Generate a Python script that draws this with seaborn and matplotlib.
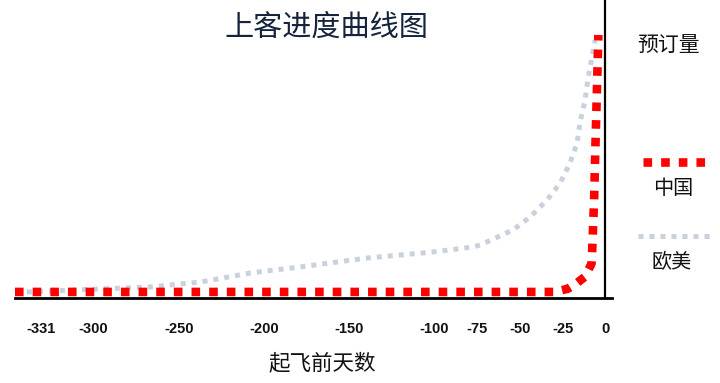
import numpy as np
import pandas as pd
import matplotlib
matplotlib.use("Agg")
import matplotlib.pyplot as plt
import seaborn as sns
from matplotlib.lines import Line2D

# 起飞前天数 / 预订量
days_cn = [-346, -30, -22, -17, -12, -8, -7.5, -6.5, -5.8, -5, -4]
booking_cn = [2.3, 2.3, 3.5, 5.5, 8, 13, 20, 37, 56, 75, 100]

days_eu = [-339, -267, -237, -208, -179, -139.5, -101, -77.5, -73, -54, -44,
           -34, -26.4, -20.6, -16.5, -14.7, -11.8, -10, -7.7, -5.9]
booking_eu = [2.3, 4.2, 6.1, 9.5, 11.8, 15.2, 17.5, 19.4, 20.2, 25.9, 30.8,
              37.3, 43.7, 51.3, 58.9, 66.9, 75.3, 83.7, 91.6, 98]

tick_days = [-331, -300, -250, -200, -150, -100, -75, -50, -25, 0]
series_names = ["中国", "欧美"]

red = "#ff0000"
grey = "#c9d1dd"

sns.set_theme(style="white")
plt.rcParams["font.family"] = ["Noto Sans CJK SC", "DejaVu Sans"]

fig = plt.figure(figsize=(7.2, 3.83), dpi=100)
ax = fig.add_axes([15 / 720, 1 - 298 / 383, 597 / 720, 298 / 383])

df = pd.concat([
    pd.DataFrame({"days": days_cn, "booking": booking_cn, "region": series_names[0]}),
    pd.DataFrame({"days": days_eu, "booking": booking_eu, "region": series_names[1]}),
])

sns.lineplot(data=df[df.region == series_names[1]], x="days", y="booking",
             color=grey, lw=3.6, ax=ax, sort=False, legend=False,
             dashes=False)
sns.lineplot(data=df[df.region == series_names[0]], x="days", y="booking",
             color=red, lw=6.2, ax=ax, sort=False, legend=False,
             dashes=False)
ax.lines[0].set_dashes([1, 1.2])
ax.lines[0].set_dash_capstyle("butt")
ax.lines[1].set_dashes([1, 1.05])
ax.lines[1].set_dash_capstyle("butt")

ax.set_xlim(-346, 4)
ax.set_ylim(0, 113.3)

for s in ["top", "right"]:
    ax.spines[s].set_visible(False)
ax.spines["left"].set_position(("data", 0))
ax.spines["left"].set_color("black")
ax.spines["left"].set_linewidth(1.6)
ax.spines["bottom"].set_color("black")
ax.spines["bottom"].set_linewidth(2)

ax.set_yticks([])
ax.set_xticks(tick_days)
ax.set_xticklabels([str(t) for t in tick_days], fontfamily="Liberation Sans",
                   fontweight="bold", fontsize=10.5, color="#111111")
ax.tick_params(axis="x", length=0, pad=17)
ax.set_xticks([0], minor=True)
ax.tick_params(axis="x", which="minor", length=6, width=1.6, direction="out",
               color="black")

ax.set_xlabel("起飞前天数", fontsize=15.5, color="#111111")
ax.xaxis.set_label_coords((322 - 15) / 597, -(363 - 298) / 298)
ax.xaxis.label.set_va("center")
ax.set_ylabel("")

fig.text(326 / 720, 1 - 28 / 383, "上客进度曲线图", fontsize=21, color="#14243c",
         ha="center", va="center")
fig.text(668 / 720, 1 - 45 / 383, "预订量", fontsize=15, color="#111111",
         ha="center", va="center")

# 图例
fig.add_artist(Line2D([643 / 720, 707 / 720], [1 - 162 / 383] * 2, color=red,
                      lw=6.2, dashes=[1, 1.05], dash_capstyle="butt"))
fig.text(673 / 720, 1 - 188 / 383, series_names[0], fontsize=14.5, color="#111111",
         ha="center", va="center")
fig.add_artist(Line2D([638 / 720, 710 / 720], [1 - 236 / 383] * 2, color=grey,
                      lw=3.6, dashes=[1, 1.2], dash_capstyle="butt"))
fig.text(672 / 720, 1 - 263 / 383, series_names[1], fontsize=14.5, color="#111111",
         ha="center", va="center")

fig.savefig("out.png", dpi=100)
